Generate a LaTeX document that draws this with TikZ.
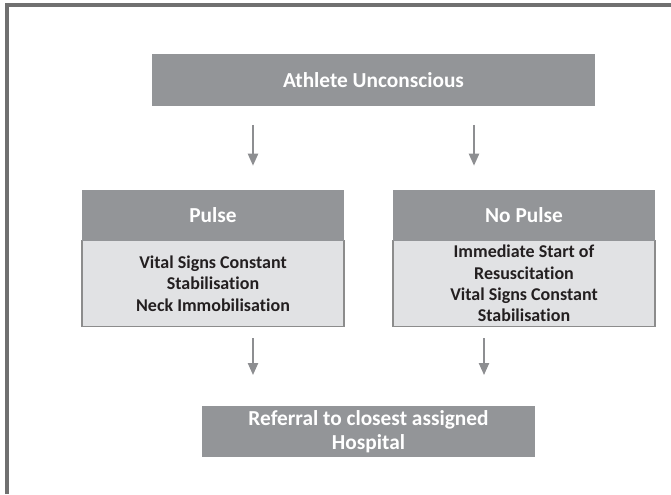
\documentclass[tikz,border=0pt]{standalone}
\usepackage{fontspec}
\setmainfont{Carlito}[Ligatures={NoCommon}]
\usetikzlibrary{arrows.meta}
\definecolor{framegray}{HTML}{707070}
\definecolor{boxgray}{HTML}{939598}
\definecolor{lightbox}{HTML}{E1E2E4}
\definecolor{bordergray}{HTML}{8C8C8C}
\definecolor{arrowgray}{HTML}{8D8E91}
\definecolor{textdark}{HTML}{231F20}
\tikzset{
  headbox/.style={rectangle, fill=boxgray, text=white, font=\fontsize{16}{18}\selectfont\bfseries, align=center, inner sep=0pt},
  bodybox/.style={rectangle, fill=lightbox, draw=bordergray, line width=1.1pt, text=textdark, font=\fontsize{13.5}{16}\selectfont\bfseries, align=center, inner sep=0pt},
  arr/.style={draw=arrowgray, line width=1.6pt, -{Triangle[width=7.5pt,length=9pt]}, arrowgray}
}
\begin{document}
\begin{tikzpicture}[x=0.75pt,y=-0.75pt]
\useasboundingbox (0,0) rectangle (671,494);
% frame
\draw[framegray, line width=2.4pt] (7,494) -- (7,5) -- (671,5);
% boxes
\node[headbox, minimum width=332.25pt, minimum height=39pt] (top) at (373.5,80) {Athlete Unconscious};
\node[bodybox, minimum width=196.5pt, minimum height=64.5pt] (pbody) at (213,283.5) {Vital Signs Constant\\Stabilisation\\Neck Immobilisation};
\node[headbox, minimum width=196.5pt, minimum height=38.25pt] (phead) at (213,215.5) {Pulse};
\node[bodybox, minimum width=196.5pt, minimum height=64.5pt] (nbody) at (524,283.5) {Immediate Start of\\Resuscitation\\Vital Signs Constant\\Stabilisation};
\node[headbox, minimum width=196.5pt, minimum height=38.25pt] (nhead) at (524,215.5) {No Pulse};
\node[headbox, minimum width=249.75pt, minimum height=38.25pt] (hosp) at (368.5,431.5) {Referral to closest assigned\\Hospital};
% arrow columns
\coordinate (c1) at (253,0);
\coordinate (c2) at (474,0);
\coordinate (c3) at (253,0);
\coordinate (c4) at (484,0);
\draw[arr, shorten <=14pt, shorten >=18pt] (top.south -| c1) -- (phead.north -| c1);
\draw[arr, shorten <=14pt, shorten >=18pt] (top.south -| c2) -- (nhead.north -| c2);
\draw[arr, shorten <=8.25pt, shorten >=23pt] (pbody.south -| c3) -- (hosp.north -| c3);
\draw[arr, shorten <=8.25pt, shorten >=23pt] (nbody.south -| c4) -- (hosp.north -| c4);
\end{tikzpicture}
\end{document}
